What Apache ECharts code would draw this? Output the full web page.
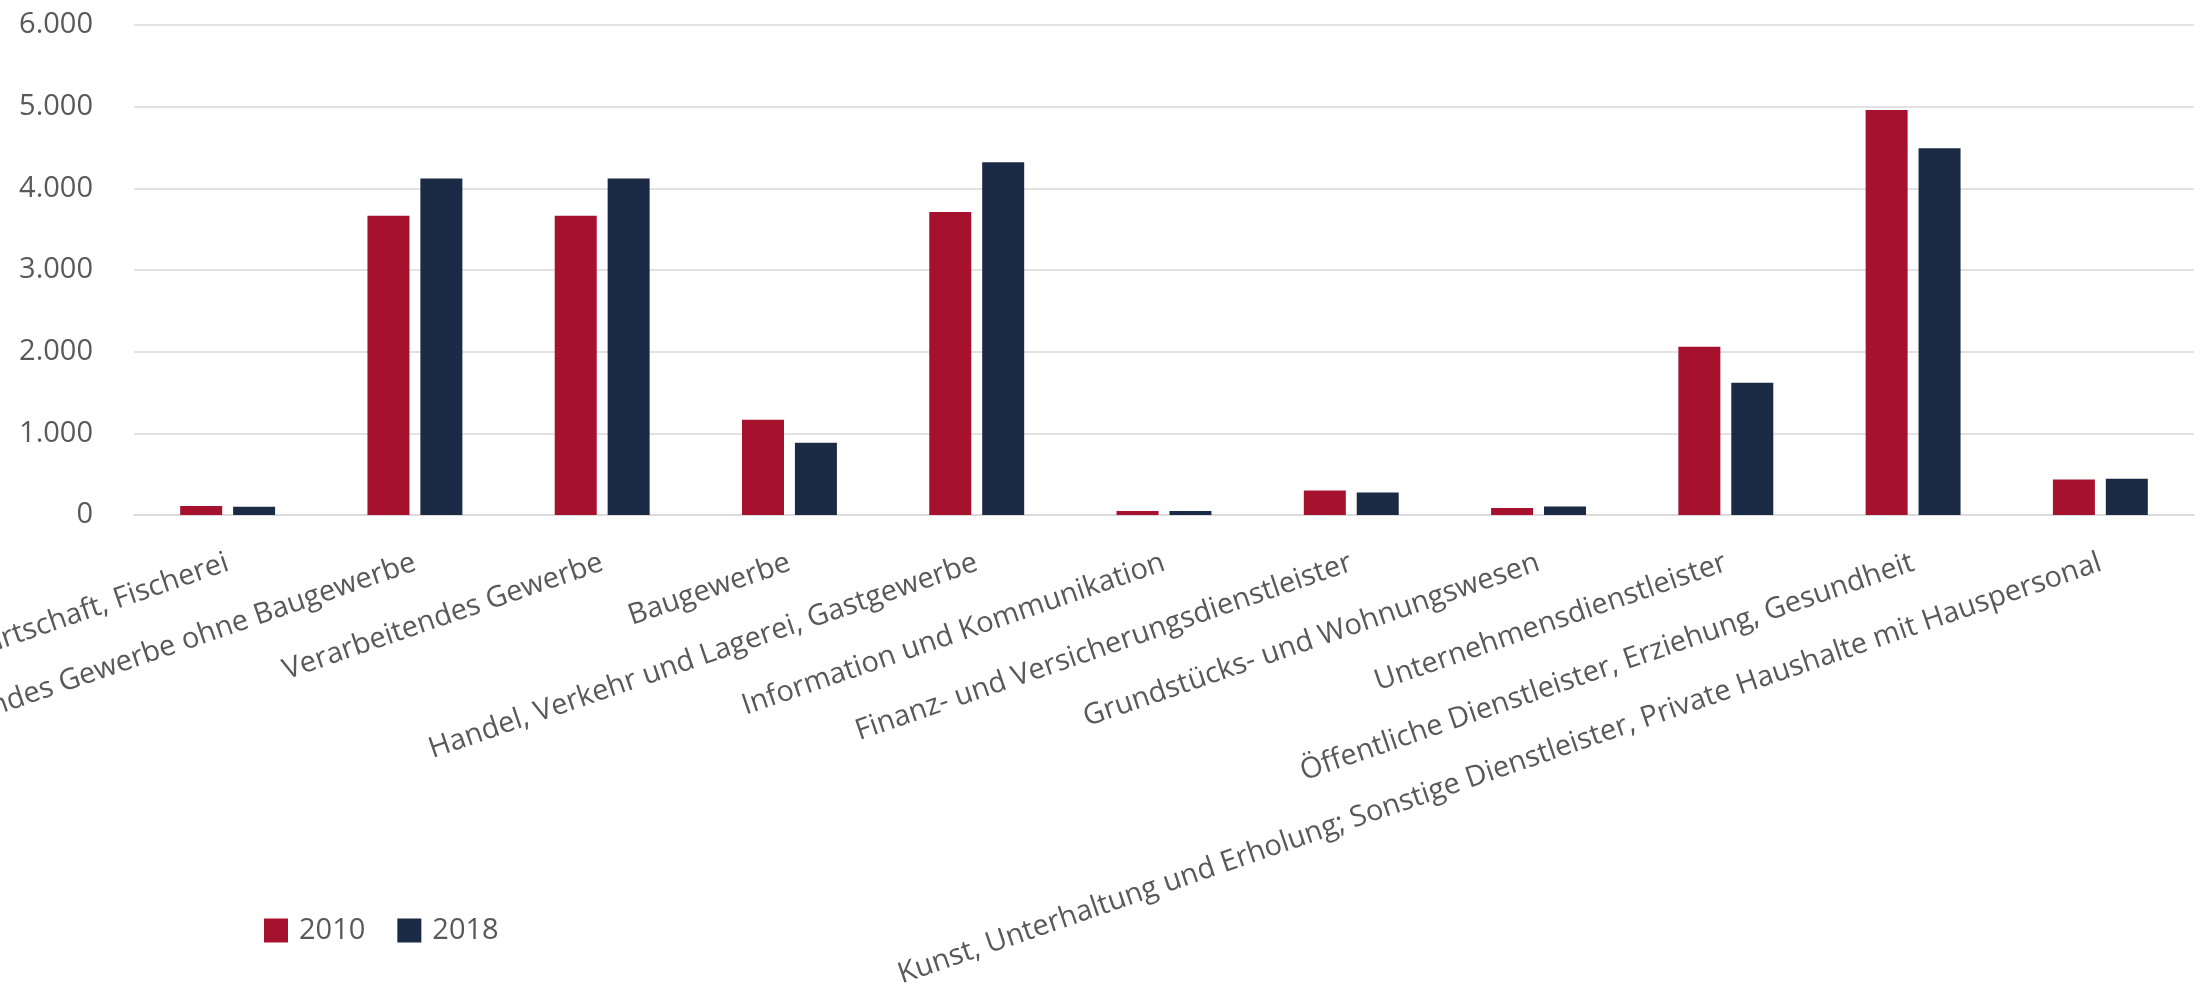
<!DOCTYPE html>
<html>
<head>
<meta charset="utf-8">
<script src="https://cdn.jsdelivr.net/npm/echarts@6/dist/echarts.min.js"></script>
<style>
html,body{margin:0;padding:0;background:#fff;}
#chart{width:2205px;height:999px;}
</style>
</head>
<body>
<div id="chart"></div>
<script>
const categories = [
  "Land- und Forstwirtschaft, Fischerei",
  "Produzierendes Gewerbe ohne Baugewerbe",
  "Verarbeitendes Gewerbe",
  "Baugewerbe",
  "Handel, Verkehr und Lagerei, Gastgewerbe",
  "Information und Kommunikation",
  "Finanz- und Versicherungsdienstleister",
  "Grundstücks- und Wohnungswesen",
  "Unternehmensdienstleister",
  "Öffentliche Dienstleister, Erziehung, Gesundheit",
  "Kunst, Unterhaltung und Erholung; Sonstige Dienstleister, Private Haushalte mit Hauspersonal"
];
const values2010 = [110, 3665, 3665, 1165, 3710, 50, 300, 85, 2060, 4960, 435];
const values2018 = [100, 4120, 4120, 885, 4320, 50, 275, 105, 1620, 4490, 445];
const seriesNames = ["2010", "2018"];
const yTicks = [0, 1000, 2000, 3000, 4000, 5000, 6000];

const FONT = "'Open Sans', 'Noto Sans', sans-serif";
const TEXT = '#595959';
const chart = echarts.init(document.getElementById('chart'), null, {renderer: 'canvas'});
chart.setOption({
  animation: false,
  backgroundColor: '#ffffff',
  textStyle: {fontFamily: FONT},
  color: ['#A6122D', '#1B2B46'],
  grid: {left: 134, right: 11, top: 25, bottom: 484, containLabel: false, outerBoundsMode: 'none'},
  legend: {
    data: seriesNames,
    left: 259, top: 911,
    itemWidth: 24, itemHeight: 24, itemGap: 32,
    icon: 'rect',
    textStyle: {fontSize: 29, color: TEXT, fontFamily: FONT, padding: [0, 0, 0, 6]}
  },
  xAxis: {
    type: 'category',
    data: categories,
    axisLine: {show: true, lineStyle: {color: '#d9d9d9', width: 1.5}},
    axisTick: {show: false},
    axisLabel: {
      interval: 0, rotate: 19, margin: 47, hideOverlap: false,
      color: TEXT, fontSize: 29, fontFamily: FONT
    }
  },
  yAxis: {
    type: 'value',
    min: yTicks[0], max: yTicks[yTicks.length - 1], interval: 1000,
    axisLine: {show: false},
    axisTick: {show: false},
    splitLine: {lineStyle: {color: '#d9d9d9', width: 1.5}},
    axisLabel: {
      margin: 41, color: TEXT, fontSize: 29, fontFamily: FONT,
      formatter: v => String(v).replace(/\B(?=(\d{3})+(?!\d))/g, '.')
    }
  },
  series: [
    {name: seriesNames[0], type: 'bar', data: values2010, barWidth: 42, barGap: '26%'},
    {name: seriesNames[1], type: 'bar', data: values2018, barWidth: 42, barGap: '26%'}
  ]
});
</script>
</body>
</html>
